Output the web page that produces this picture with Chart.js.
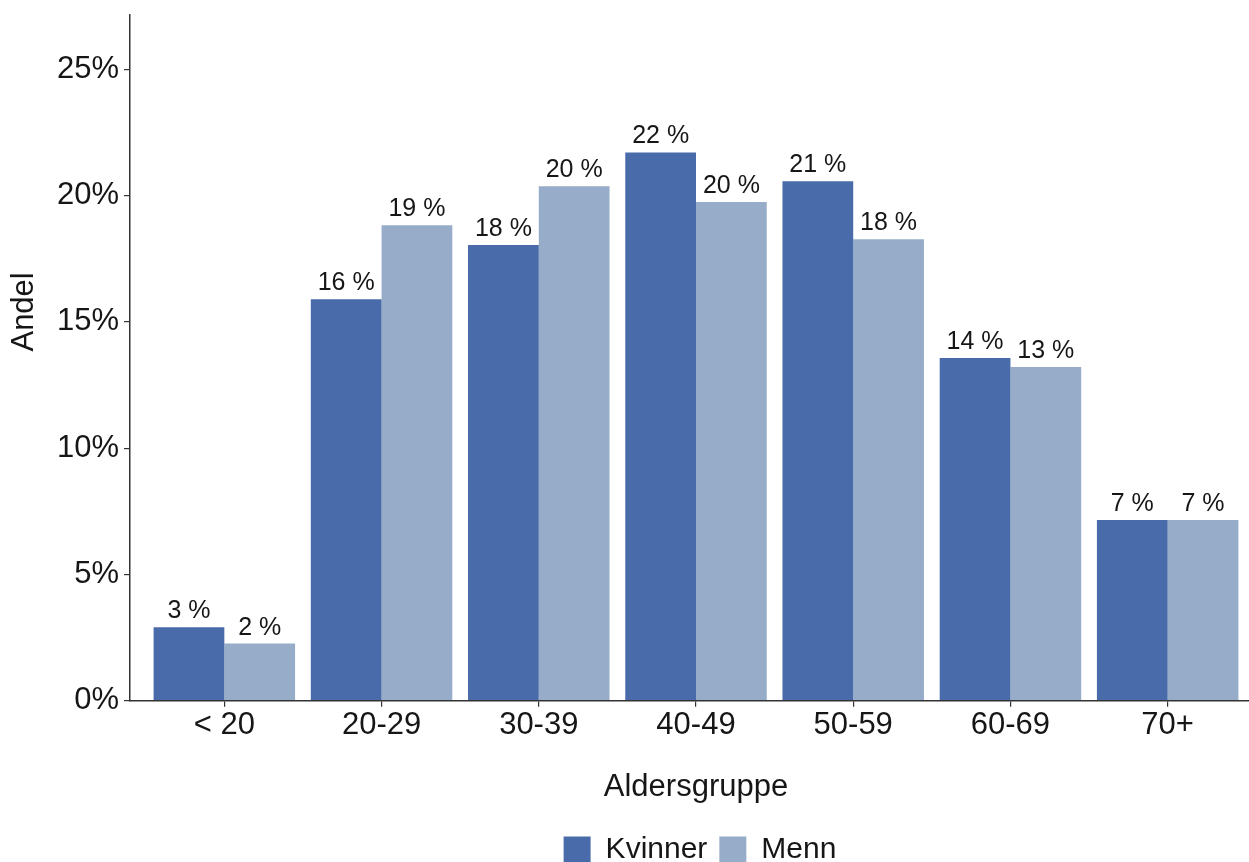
<!DOCTYPE html>
<html lang="no">
<head>
<meta charset="utf-8">
<title>Andel etter aldersgruppe</title>
<script src="https://cdn.jsdelivr.net/npm/chart.js@4.4.1/dist/chart.umd.min.js"></script>
<style>
  html, body { margin: 0; padding: 0; background: #ffffff; overflow: hidden; }
  #wrap { width: 1262px; height: 875px; position: relative; }
</style>
</head>
<body>
<div id="wrap"><canvas id="chart"></canvas></div>
<script>
// Aldersgrupper og andeler (prosent)
const categories = ['< 20', '20-29', '30-39', '40-49', '50-59', '60-69', '70+'];
const kvinner = [2.91, 15.9, 18.04, 21.71, 20.57, 13.57, 7.15];
const menn = [2.26, 18.83, 20.37, 19.75, 18.27, 13.21, 7.15];
const yTicks = [0, 5, 10, 15, 20, 25];
const seriesNames = ['Kvinner', 'Menn'];
const seriesColors = ['#4a6baa', '#96acc9'];

const FONT = '"Liberation Sans", Arial, sans-serif';
const TEXT = '#161616';
const AXIS = '#333333';

const toPoints = arr => arr.map((v, i) => ({ x: i + 1, y: v }));

// Verdietiketter over hver stolpe
const valueLabels = {
  id: 'valueLabels',
  afterDatasetsDraw(chart) {
    const ctx = chart.ctx;
    ctx.save();
    ctx.font = '25px ' + FONT;
    ctx.fillStyle = TEXT;
    ctx.textAlign = 'center';
    ctx.textBaseline = 'alphabetic';
    chart.data.datasets.forEach((ds, di) => {
      chart.getDatasetMeta(di).data.forEach((bar, i) => {
        const v = ds.data[i].y;
        ctx.fillText(Math.round(v) + ' %', bar.x, bar.y - 9);
      });
    });
    ctx.restore();
  }
};

// Y-aksetittel og legendeplassering
const axisExtras = {
  id: 'axisExtras',
  afterLayout(chart) {
    const lg = chart.legend;
    if (lg) {
      lg.left = chart.chartArea.left + 8;
      lg.right = chart.chartArea.right;
    }
  },
  afterDraw(chart) {
    const ctx = chart.ctx;
    const a = chart.chartArea;
    ctx.save();
    ctx.font = '31px ' + FONT;
    ctx.fillStyle = TEXT;
    ctx.textAlign = 'center';
    ctx.textBaseline = 'middle';
    ctx.translate(24, a.top + (a.bottom - a.top) * 0.433);
    ctx.rotate(-Math.PI / 2);
    ctx.fillText('Andel', 0, 0);
    ctx.restore();
  }
};

new Chart(document.getElementById('chart'), {
  type: 'bar',
  data: {
    datasets: [
      { label: seriesNames[0], data: toPoints(kvinner), backgroundColor: seriesColors[0], borderWidth: 0 },
      { label: seriesNames[1], data: toPoints(menn), backgroundColor: seriesColors[1], borderWidth: 0 }
    ]
  },
  options: {
    responsive: true,
    maintainAspectRatio: false,
    animation: false,
    layout: { padding: { top: 15, left: 0, right: 0, bottom: 0 } },
    datasets: { bar: { categoryPercentage: 0.9, barPercentage: 1.0 } },
    scales: {
      x: {
        type: 'linear',
        min: 0.4,
        max: 7.6,
        offset: false,
        afterBuildTicks(scale) { scale.ticks = categories.map((c, i) => ({ value: i + 1 })); },
        afterFit(scale) { scale.height = 122.3; scale.paddingLeft = 0; scale.paddingRight = 0; },
        ticks: {
          color: TEXT,
          font: { family: FONT, size: 31 },
          padding: 0,
          maxRotation: 0,
          autoSkip: false,
          callback: (v) => categories[v - 1] ?? ''
        },
        grid: { display: true, offset: false, drawOnChartArea: false, drawTicks: true, tickLength: 6, color: AXIS, lineWidth: 1.2 },
        border: { display: true, color: AXIS, width: 1.5 },
        title: {
          display: true,
          text: 'Aldersgruppe',
          color: TEXT,
          font: { family: FONT, size: 31 },
          padding: { top: 0, bottom: 17 }
        }
      },
      y: {
        min: 0,
        max: 27.15,
        afterBuildTicks(scale) { scale.ticks = yTicks.map(v => ({ value: v })); },
        afterFit(scale) { scale.width = 130; scale.paddingTop = 0; scale.paddingBottom = 0; },
        ticks: {
          color: TEXT,
          font: { family: FONT, size: 31 },
          padding: 5,
          callback: (v) => v + '%'
        },
        grid: { display: true, drawOnChartArea: false, drawTicks: true, tickLength: 6, color: AXIS, lineWidth: 1.2 },
        border: { display: true, color: AXIS, width: 1.5 }
      }
    },
    plugins: {
      legend: {
        display: true,
        position: 'bottom',
        labels: {
          color: TEXT,
          font: { family: FONT, size: 30 },
          boxWidth: 27,
          boxHeight: 27,
          padding: 12
        }
      },
      tooltip: { enabled: false }
    }
  },
  plugins: [valueLabels, axisExtras]
});
</script>
</body>
</html>
